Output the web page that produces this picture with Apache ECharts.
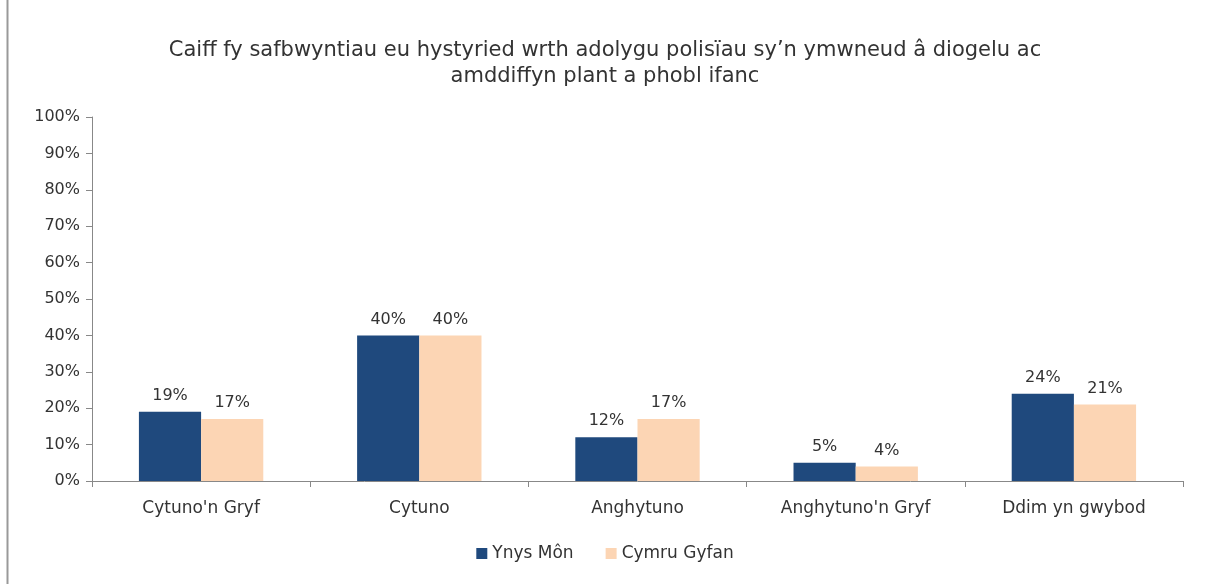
<!DOCTYPE html>
<html>
<head>
<meta charset="utf-8">
<script src="https://cdn.jsdelivr.net/npm/echarts@6/dist/echarts.min.js"></script>
<style>
html,body{margin:0;padding:0;background:#fff;}
#c{width:1210px;height:584px;}
</style>
</head>
<body>
<div id="c"></div>
<script>
const titleText = "Caiff fy safbwyntiau eu hystyried wrth adolygu polisïau sy’n ymwneud â diogelu ac\namddiffyn plant a phobl ifanc";
const categories = ["Cytuno'n Gryf", "Cytuno", "Anghytuno", "Anghytuno'n Gryf", "Ddim yn gwybod"];
const seriesNames = ["Ynys Môn", "Cymru Gyfan"];
const ynysMon = [19, 40, 12, 5, 24];
const cymruGyfan = [17, 40, 17, 4, 21];
const yTicks = [0, 10, 20, 30, 40, 50, 60, 70, 80, 90, 100];

const font = "'DejaVu Sans', sans-serif";
const chart = echarts.init(document.getElementById('c'), null, {renderer: 'canvas'});
chart.setOption({
  backgroundColor: '#fff',
  animation: false,
  title: {
    text: titleText,
    left: 'center',
    top: 33,
    textStyle: {fontFamily: font, fontSize: 21, fontWeight: 'normal', color: '#333', lineHeight: 26}
  },
  legend: {
    data: seriesNames,
    bottom: 17,
    left: 'center',
    itemWidth: 11,
    itemHeight: 11,
    itemGap: 32,
    icon: 'rect',
    textStyle: {fontFamily: font, fontSize: 17, color: '#333'}
  },
  grid: {left: 92, right: 27, top: 117, bottom: 103, containLabel: false},
  xAxis: {
    type: 'category',
    data: categories,
    axisLine: {lineStyle: {color: '#888'}},
    axisTick: {show: true, length: 6, lineStyle: {color: '#888'}},
    axisLabel: {fontFamily: font, fontSize: 17, color: '#333', margin: 19}
  },
  yAxis: {
    type: 'value',
    min: 0,
    max: 100,
    interval: 10,
    axisLine: {show: true, lineStyle: {color: '#888'}},
    axisTick: {show: true, length: 6, lineStyle: {color: '#888'}},
    splitLine: {show: false},
    axisLabel: {fontFamily: font, fontSize: 16, color: '#333', margin: 12,
      formatter: v => yTicks.includes(v) ? v + '%' : ''}
  },
  series: [
    {
      name: seriesNames[0], type: 'bar', data: ynysMon,
      barGap: '0%', barCategoryGap: '43%',
      itemStyle: {color: '#1F497D'},
      label: {show: true, position: 'top', distance: 8, formatter: '{c}%', fontFamily: font, fontSize: 16, color: '#333'}
    },
    {
      name: seriesNames[1], type: 'bar', data: cymruGyfan,
      barGap: '0%', barCategoryGap: '43%',
      itemStyle: {color: '#FCD5B4'},
      label: {show: true, position: 'top', distance: 8, formatter: '{c}%', fontFamily: font, fontSize: 16, color: '#333'}
    }
  ],
  graphic: [
    {type: 'line', shape: {x1: 7.5, y1: 0, x2: 7.5, y2: 584}, style: {stroke: '#999', lineWidth: 2}}
  ]
});
</script>
</body>
</html>
